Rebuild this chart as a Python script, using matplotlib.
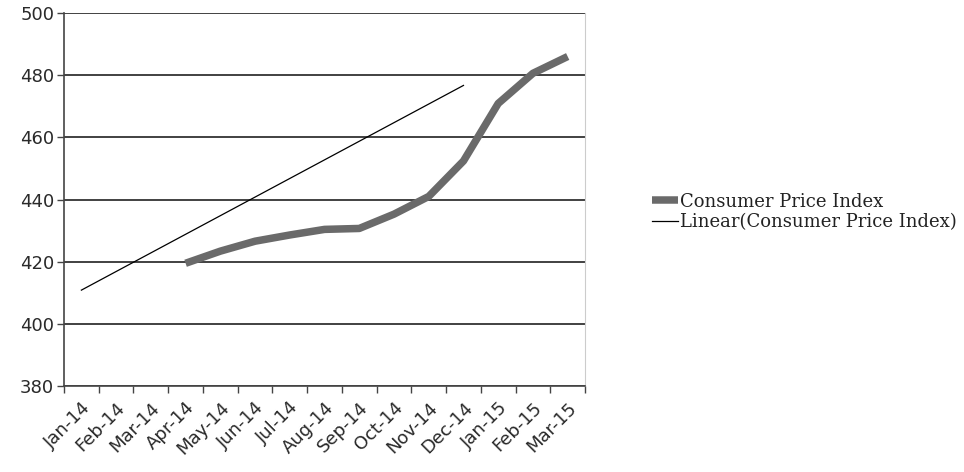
import numpy as np
import matplotlib
matplotlib.use("Agg")
import matplotlib.pyplot as plt
from matplotlib.lines import Line2D

months = ["Jan-14", "Feb-14", "Mar-14", "Apr-14", "May-14", "Jun-14", "Jul-14",
          "Aug-14", "Sep-14", "Oct-14", "Nov-14", "Dec-14", "Jan-15", "Feb-15", "Mar-15"]
cpi_months = months[3:]
cpi_values = [419.5, 423.4, 426.6, 428.6, 430.4, 430.7, 435.3, 441.0,
              452.4, 470.9, 480.6, 486.0]
y_ticks = [380, 400, 420, 440, 460, 480, 500]

fig = plt.figure(figsize=(9.64, 4.72), dpi=100)
ax = fig.add_axes([0.0664, 0.182, 0.5405, 0.7905])

pos = {m: i for i, m in enumerate(months)}
x_cpi = np.array([pos[m] for m in cpi_months])
ax.plot(x_cpi, cpi_values, color="#6a6a6a", lw=5.4, solid_capstyle="butt",
        solid_joinstyle="round", zorder=3)

# Linear trend fitted on the series index (1..n) and drawn from the first category
idx = np.arange(1, len(cpi_values) + 1)
slope, intercept = np.polyfit(idx, cpi_values, 1)
ax.plot(idx - 1, slope * idx + intercept, color="black", lw=0.9, zorder=4)

ax.set_xlim(-0.5, len(months) - 0.5)
ax.set_ylim(380, 500)
ax.set_yticks(y_ticks)
ax.set_yticklabels([str(v) for v in y_ticks], fontsize=13, color="#2a2a2a")
ax.yaxis.grid(True, color="#333333", lw=1.3)
ax.set_axisbelow(True)

ax.set_xticks(np.arange(len(months)))
ax.set_xticklabels(months, rotation=45, ha="right", rotation_mode="anchor",
                   fontsize=13, color="#2a2a2a")
ax.tick_params(axis="x", length=0, pad=9)
ax.set_xticks(np.arange(len(months) + 1) - 0.5, minor=True)
ax.tick_params(axis="x", which="minor", length=5, width=1, color="#444444")
ax.tick_params(axis="y", length=5, width=1, color="#444444", pad=2)

for s in ["left", "bottom"]:
    ax.spines[s].set_color("#444444")
    ax.spines[s].set_linewidth(1.2)
ax.spines["top"].set_visible(False)
ax.spines["right"].set_color("#cccccc")

handles = [
    Line2D([0], [0], color="#6a6a6a", lw=5.4, solid_capstyle="butt"),
    Line2D([0], [0], color="black", lw=0.9),
]
fig.legend(handles, ["Consumer Price Index", "Linear(Consumer Price Index)"],
           loc="center left", bbox_to_anchor=(0.660, 0.551), frameon=False,
           prop={"family": "DejaVu Serif", "size": 13},
           handlelength=1.4, handletextpad=0.12, labelspacing=0.15,
           labelcolor="#222222")

fig.savefig("out.png", dpi=100)
